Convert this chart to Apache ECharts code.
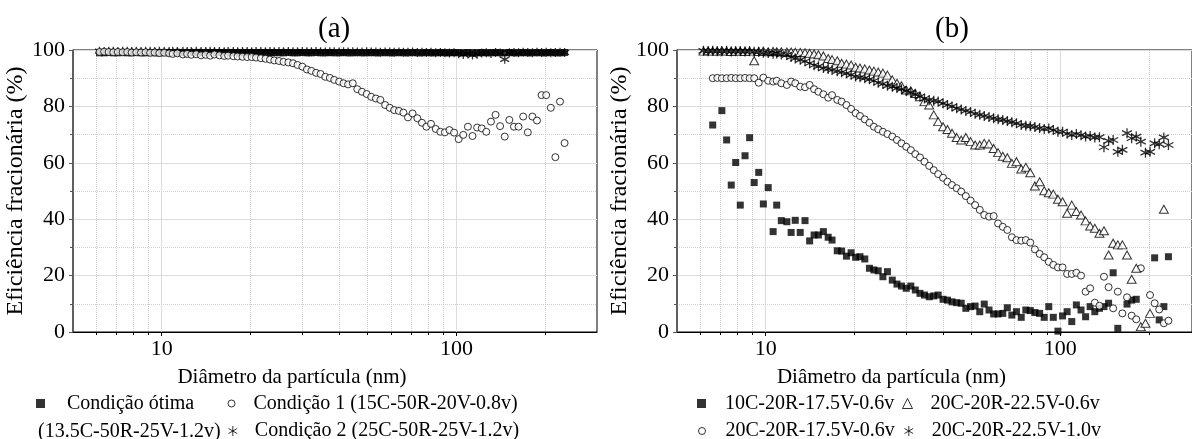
<!DOCTYPE html>
<html>
<head>
<meta charset="utf-8">
<script src="https://cdn.jsdelivr.net/npm/echarts@6/dist/echarts.min.js"></script>
<style>
  html, body { margin: 0; padding: 0; background: #fff; }
  #chart { width: 1192px; height: 439px; }
</style>
</head>
<body>
<div id="chart"></div>
<script>
// SMPS channel mid-point diameters (nm)
const diameters = [
  6.15, 6.38, 6.61, 6.85, 7.10, 7.37, 7.64, 7.91, 8.20, 8.51,
  8.82, 9.14, 9.47, 9.82, 10.2, 10.6, 10.9, 11.3, 11.8, 12.2,
  12.6, 13.1, 13.6, 14.1, 14.6, 15.1, 15.7, 16.3, 16.8, 17.5,
  18.1, 18.8, 19.5, 20.2, 20.9, 21.7, 22.5, 23.3, 24.1, 25.0,
  25.9, 26.9, 27.9, 28.9, 30.0, 31.1, 32.2, 33.4, 34.6, 35.9,
  37.2, 38.5, 40.0, 41.4, 42.9, 44.5, 46.1, 47.8, 49.6, 51.4,
  53.3, 55.2, 57.3, 59.4, 61.5, 63.8, 66.1, 68.5, 71.0, 73.7,
  76.4, 79.1, 82.0, 85.1, 88.2, 91.4, 94.7, 98.2, 101.8, 105.5,
  109.4, 113.4, 117.6, 121.9, 126.3, 131.0, 135.8, 140.7, 145.9, 151.2,
  156.8, 162.5, 168.5, 174.7, 181.1, 187.7, 194.6, 201.7, 209.1, 216.7,
  224.7, 232.9, 241.4
];

// painel (a)
const condOtima = [
  99.0, 99.0, 99.1, 99.0, 99.0, 99.1, 99.0, 99.0, 99.1, 99.0,
  99.0, 99.1, 99.0, 99.0, 99.1, 99.0, 99.0, 99.1, 99.0, 99.0,
  99.1, 99.0, 99.0, 99.1, 99.0, 99.0, 99.1, 99.0, 99.0, 99.1,
  99.0, 99.0, 99.1, 99.0, 99.0, 99.1, 99.0, 99.0, 99.1, 99.0,
  99.0, 99.1, 99.0, 99.0, 99.1, 99.0, 99.0, 99.1, 99.0, 99.0,
  99.1, 99.0, 99.0, 99.1, 99.0, 99.0, 99.1, 99.0, 99.0, 99.1,
  99.0, 99.0, 99.1, 99.0, 99.0, 99.1, 99.0, 99.0, 99.1, 99.0,
  99.0, 99.1, 99.0, 99.0, 99.1, 99.0, 99.0, 99.1, 99.0, 99.0,
  99.1, 99.0, 99.0, 99.1, 99.0, 99.0, 99.1, 99.0, 99.0, 99.1,
  99.0, 99.0, 99.1, 99.0, 99.0, 99.1, 99.0, 99.0, 99.1, 99.0,
  99.0, 99.1
];
const cond1 = [
  99.3, 99.4, 99.3, 99.2, 99.3, 99.2, 99.3, 99.1, 99.2, 99.1,
  99.2, 99.0, 99.1, 98.9, 99.0, 98.8, 98.6, 98.8, 98.4, 98.6,
  98.3, 98.5, 98.1, 98.3, 98.0, 98.4, 98.1, 97.9, 98.0, 97.8,
  97.7, 97.6, 97.5, 97.5, 97.3, 97.1, 96.9, 96.6, 96.3, 96.1,
  95.8, 95.6, 95.3, 94.7, 94.1, 93.1, 92.6, 91.9, 91.5, 90.5,
  90.1, 89.4, 88.8, 88.2, 87.8, 88.2, 86.1, 85.2, 84.4, 83.4,
  82.8, 82.3, 80.5, 79.5, 78.7, 78.4, 77.8, 76.1, 77.5, 75.8,
  74.2, 72.8, 73.8, 72.0, 71.0, 70.8, 71.6, 70.7, 68.4, 69.9,
  72.8, 69.5, 72.5, 72.2, 71.0, 74.6, 77.0, 73.0, 69.3, 75.2,
  72.8, 72.8, 76.4, 70.8, 76.4, 75.0, 84.0, 84.0, 79.5, 62.0,
  81.7, 67.0
];
const cond2 = [
  99.6, 99.5, 99.6, 99.6, 99.5, 99.6, 99.6, 99.5, 99.6, 99.5,
  99.6, 99.6, 99.5, 99.6, 99.5, 99.5, 99.6, 99.5, 99.6, 99.5,
  99.5, 99.6, 99.5, 99.5, 99.6, 99.5, 99.5, 99.4, 99.5, 99.5,
  99.4, 99.5, 99.5, 99.4, 99.5, 99.5, 99.4, 99.5, 99.4, 99.5,
  99.4, 99.5, 99.4, 99.4, 99.5, 99.4, 99.4, 99.5, 99.4, 99.3,
  99.4, 99.4, 99.3, 99.4, 99.3, 99.4, 99.3, 99.3, 99.4, 99.3,
  99.3, 99.2, 99.3, 99.3, 99.2, 99.3, 99.2, 99.2, 99.3, 99.1,
  99.2, 99.1, 99.2, 99.0, 99.1, 99.0, 98.9, 99.0, 98.7, 98.4,
  98.6, 98.2, 98.5, 98.9, 99.0, 98.8, 99.1, 98.9, 96.7, 99.0,
  99.1, 99.0, 99.2, 99.1, 99.0, 99.2, 99.1, 99.2, 99.0, 99.1,
  99.2, 99.1
];

// painel (b)
const b10C175 = [
  null, null, 73.4, null, 78.5, 68.1, 52.1, 60.1, 45.0, 62.5,
  68.9, 53.0, 56.6, 45.4, 51.2, 35.6, 45.0, 39.5, 39.1, 35.3,
  39.6, 35.3, 39.5, 32.3, 34.4, 34.4, 35.6, 33.6, 32.6, 28.8,
  28.7, 26.9, 28.1, 26.5, 26.7, 25.9, 22.6, 22.0, 21.7, 19.6,
  21.4, 18.4, 17.0, 16.3, 15.5, 16.3, 14.9, 13.7, 13.1, 12.5,
  12.8, 13.1, 11.6, 11.3, 10.7, 10.4, 10.2, 8.4, 9.0, 9.2,
  7.2, 9.9, 7.8, 6.4, 6.4, 6.6, 8.6, 6.0, 7.2, 5.2,
  7.8, 7.6, 6.9, 6.6, 5.2, 9.0, 5.2, 0.3, 5.7, 7.2,
  3.7, 9.6, 7.8, 5.4, 9.0, 7.2, 8.4, 9.0, 10.2, 21.0,
  1.3, null, 9.9, 11.3, 11.6, null, null, null, 26.3, 4.3,
  9.0, 26.7
];
const b20C175 = [
  null, null, 90.0, 90.1, 90.0, 90.0, 90.1, 90.0, 90.0, 90.1,
  90.0, 90.0, 88.4, 90.2, 89.1, 88.8, 89.1, 88.2, 87.6, 88.8,
  88.2, 87.0, 86.8, 87.6, 86.1, 85.2, 84.3, 83.1, 84.0, 82.3,
  81.7, 80.5, 79.1, 77.6, 76.6, 75.4, 74.2, 72.8, 71.9, 71.0,
  70.2, 69.3, 68.1, 66.9, 65.7, 64.5, 63.1, 61.9, 60.4, 58.9,
  57.4, 56.0, 54.7, 53.3, 52.1, 51.0, 49.8, 48.2, 46.6, 45.0,
  43.3, 41.5, 40.9, 41.1, 38.5, 37.3, 36.2, 33.6, 32.6, 32.4,
  32.6, 31.7, 29.3, 27.7, 26.5, 24.9, 23.8, 22.9, 22.9, 20.6,
  20.6, 21.0, 20.0, 14.3, 15.5, 10.4, 9.3, 19.6, 15.9, 8.4,
  14.3, 6.6, 12.3, 5.8, 4.5, 22.6, null, 13.1, 10.2, 8.0,
  3.1, 4.0
];
const b20C225a = [
  99.6, 99.7, 99.6, 99.6, 99.7, 99.6, 99.5, 99.6, 99.6, 99.5,
  99.6, 96.2, 99.5, 99.6, 99.4, 99.5, 99.4, 99.4, 99.3, 99.3,
  99.2, 99.1, 99.0, 98.8, 98.6, 98.3, 97.9, 97.0, 96.6, 96.2,
  95.3, 95.0, 94.7, 93.9, 93.6, 93.3, 92.9, 92.5, 92.2, 91.8,
  91.1, 89.4, 88.2, 87.3, 85.8, 85.5, 84.6, 83.4, 81.7, 80.5,
  77.0, 74.6, 72.8, 71.8, 70.5, 69.0, 68.1, 69.0, 67.5, 66.3,
  66.3, 66.9, 66.7, 65.1, 63.6, 62.3, 61.8, 59.8, 60.4, 57.8,
  58.4, 56.5, 51.8, 53.3, 50.1, 49.4, 48.9, 47.1, 46.2, 42.1,
  45.0, 42.7, 41.5, 39.4, 37.6, 36.8, 35.0, 35.9, 27.3, 31.5,
  30.9, 30.9, 27.3, 18.7, 22.6, 1.9, 3.1, 6.6, null, null,
  43.5, null
];
const b20C225b = [
  99.7, 99.6, 99.7, 99.6, 99.6, 99.7, 99.5, 99.6, 99.6, 99.5,
  99.6, 99.4, 99.3, 99.0, 98.9, 98.7, 98.8, 98.4, 98.3, 97.5,
  97.0, 96.5, 96.0, 95.3, 94.6, 94.2, 93.6, 93.3, 92.9, 92.5,
  92.1, 91.7, 91.2, 90.6, 90.3, 90.0, 89.6, 89.1, 88.4, 88.0,
  87.3, 87.0, 86.5, 86.1, 85.5, 85.0, 84.2, 83.5, 82.8, 82.3,
  82.0, 81.7, 81.1, 80.5, 80.0, 79.3, 78.9, 78.4, 78.0, 77.4,
  77.0, 76.6, 76.2, 75.8, 75.4, 75.2, 74.8, 74.4, 74.0, 73.4,
  73.1, 73.0, 72.7, 72.3, 72.0, 72.2, 71.6, 71.0, 71.0, 70.3,
  69.9, 70.2, 69.8, 69.3, 69.5, 69.0, 69.1, 65.5, 67.8, 68.1,
  63.9, 64.6, 70.5, 68.7, 69.3, 67.5, 63.6, 63.9, 66.9, 66.6,
  69.0, 66.3
];

const majorTicks = [10, 100];
const minorTicks = [6, 7, 8, 9, 20, 30, 40, 50, 60, 70, 80, 90, 200];

const FONT = 'Liberation Serif';
const STAR = 'path://M5,0L5,10M0.67,2.5L9.33,7.5M0.67,7.5L9.33,2.5';

const names = {
  otima: 'Condição ótima',
  c1: 'Condição 1 (15C-50R-20V-0.8v)',
  c2: 'Condição 2 (25C-50R-25V-1.2v)',
  b1: '10C-20R-17.5V-0.6v',
  b2: '20C-20R-17.5V-0.6v',
  b3: '20C-20R-22.5V-0.6v',
  b4: '20C-20R-22.5V-1.0v'
};

const pairs = (ys) => diameters.map((d, i) => [d, ys[i]]).filter(p => p[1] != null);

const chart = echarts.init(document.getElementById('chart'));

function xAxes(gridIndex, max) {
  const base = { gridIndex, type: 'log', logBase: 10, min: 5, max, position: 'bottom' };
  return [
    {
      ...base,
      axisLine: { show: true, onZero: false, lineStyle: { color: '#000', width: 1 } },
      axisTick: { show: true, length: 4, customValues: majorTicks, lineStyle: { color: '#000' } },
      axisLabel: { customValues: majorTicks, fontFamily: FONT, fontSize: 22, color: '#000', margin: 6 },
      splitLine: { show: true, lineStyle: { color: '#dcdcdc', width: 1 } },
      name: 'Diâmetro da partícula (nm)',
      nameLocation: 'middle',
      nameGap: 35,
      nameTextStyle: { fontFamily: FONT, fontSize: 21, color: '#000', padding: [0, 86, 0, 0] }
    },
    {
      ...base,
      axisLine: { show: false },
      axisTick: { show: true, length: 3, customValues: minorTicks, lineStyle: { color: '#000' } },
      axisLabel: { show: false },
      splitLine: { show: true, lineStyle: { color: '#cfcfcf', width: 1, type: 'dotted' } }
    }
  ];
}

function yAxis(gridIndex) {
  return {
    gridIndex, type: 'value', min: 0, max: 100, interval: 20,
    axisLine: { show: true, lineStyle: { color: '#555', width: 1.5 } },
    axisTick: { show: true, length: 4, lineStyle: { color: '#555' } },
    minorTick: { show: true, splitNumber: 2, length: 3, lineStyle: { color: '#555' } },
    splitLine: { show: true, lineStyle: { color: '#dcdcdc', width: 1 } },
    minorSplitLine: { show: true, lineStyle: { color: '#cfcfcf', width: 1, type: 'dotted' } },
    axisLabel: { fontFamily: FONT, fontSize: 22, color: '#000', margin: 8 },
    name: 'Eficiência fracionária (%)',
    nameLocation: 'middle',
    nameGap: 40,
    nameTextStyle: { fontFamily: FONT, fontSize: 24, color: '#000' }
  };
}

const squareStyle = { color: '#000' };
const hollowStyle = { color: '#fff', borderColor: '#000', borderWidth: 1 };
const starStyle = { color: 'none', borderColor: '#000', borderWidth: 1.3 };

// one legend component per entry so each can sit exactly where the reference has it
function legendItem(name, icon, size, cx, top, textX) {
  const left = cx - size / 2;
  return {
    selectedMode: false,
    orient: 'horizontal',
    left, top,
    padding: 0,
    itemWidth: size,
    itemHeight: size,
    itemStyle: { borderWidth: 1 },
    textStyle: { fontFamily: FONT, fontSize: 20, color: '#000', padding: [0, 0, 0, textX - (left + size + 5)] },
    data: [{ name, icon }]
  };
}

const row1 = 393.5;
const row2 = 421;

const option = {
  animation: false,
  backgroundColor: '#fff',
  title: [
    { text: '(a)', left: 313, top: 10, textStyle: { fontFamily: FONT, fontSize: 29, fontWeight: 'normal', color: '#000' } },
    { text: '(b)', left: 930, top: 10, textStyle: { fontFamily: FONT, fontSize: 29, fontWeight: 'normal', color: '#000' } }
  ],
  grid: [
    { left: 73, top: 50, width: 524, height: 282, show: true, borderColor: '#000', borderWidth: 1 },
    { left: 677, top: 50, width: 515, height: 282, show: true, borderColor: '#000', borderWidth: 1 }
  ],
  xAxis: [...xAxes(0, 300), ...xAxes(1, 280)],
  yAxis: [yAxis(0), yAxis(1)],
  legend: [
    legendItem(names.otima, 'rect', 9, 40.5, row1, 67),
    legendItem(names.c1, 'circle', 7, 231, row1, 253),
    legendItem(names.c2, STAR, 10, 231, row2, 253),
    legendItem(names.b1, 'rect', 9, 701.5, row1, 725),
    legendItem(names.b2, 'circle', 7, 701.5, row2, 725),
    legendItem(names.b3, 'triangle', 10, 907, row1, 930),
    legendItem(names.b4, STAR, 10, 907, row2, 930)
  ],
  graphic: [
    { type: 'text', left: 38, top: row2 + 1, style: { text: '(13.5C-50R-25V-1.2v)', font: '20px "Liberation Serif"', fill: '#000' } }
  ],
  series: [
    { type: 'scatter', name: names.otima, xAxisIndex: 0, yAxisIndex: 0, data: pairs(condOtima), symbol: 'rect', symbolSize: 7, itemStyle: squareStyle },
    { type: 'scatter', name: names.c2, xAxisIndex: 0, yAxisIndex: 0, data: pairs(cond2), symbol: STAR, symbolSize: 9, itemStyle: starStyle },
    { type: 'scatter', name: names.c1, xAxisIndex: 0, yAxisIndex: 0, data: pairs(cond1), symbol: 'circle', symbolSize: 7, itemStyle: hollowStyle },

    { type: 'scatter', name: names.b1, xAxisIndex: 2, yAxisIndex: 1, data: pairs(b10C175), symbol: 'rect', symbolSize: 7, itemStyle: squareStyle },
    { type: 'scatter', name: names.b2, xAxisIndex: 2, yAxisIndex: 1, data: pairs(b20C175), symbol: 'circle', symbolSize: 7, itemStyle: hollowStyle },
    { type: 'scatter', name: names.b3, xAxisIndex: 2, yAxisIndex: 1, data: pairs(b20C225a), symbol: 'triangle', symbolSize: [9, 8], itemStyle: hollowStyle },
    { type: 'scatter', name: names.b4, xAxisIndex: 2, yAxisIndex: 1, data: pairs(b20C225b), symbol: STAR, symbolSize: 10, itemStyle: starStyle }
  ]
};

chart.setOption(option);
</script>
</body>
</html>
